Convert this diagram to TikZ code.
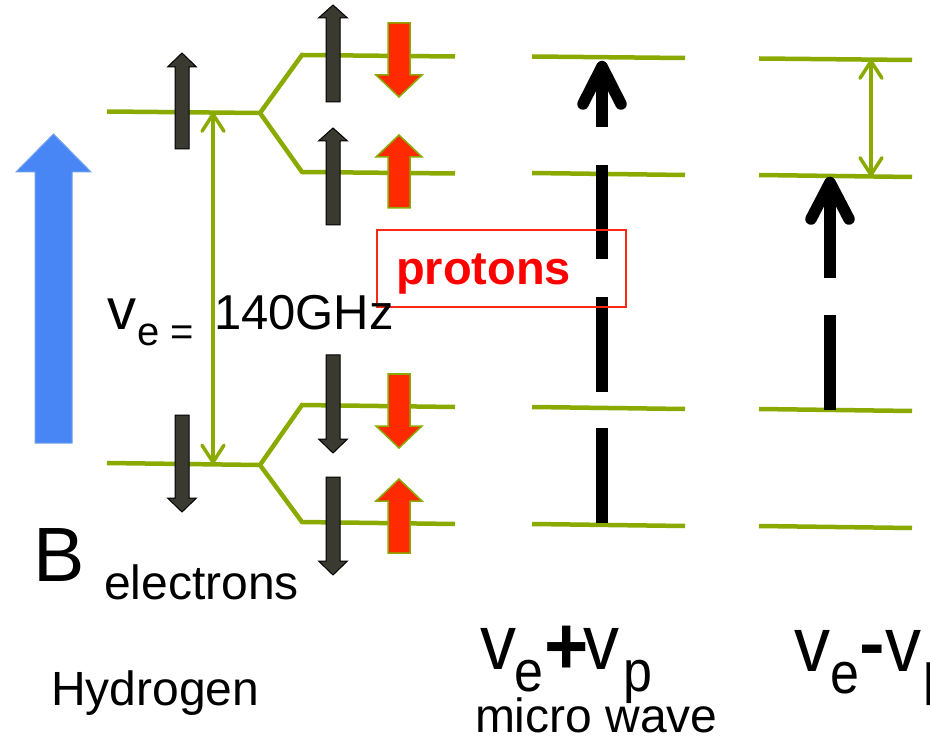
\documentclass[tikz,border=0pt]{standalone}
\usepackage{fontspec}
\setmainfont{Liberation Sans}
\usetikzlibrary{arrows.meta}
\definecolor{lvl}{RGB}{138,170,0}
\definecolor{elec}{RGB}{58,58,48}
\definecolor{prot}{RGB}{255,42,0}
\definecolor{bfield}{RGB}{72,134,246}
\definecolor{bfieldedge}{RGB}{110,160,235}
\definecolor{boxred}{RGB}{255,40,20}
% #1 style, #2 x, #3 tip y, #4 head base y, #5 tail y, #6 half shaft, #7 half head
\newcommand\myfatarrow[7]{%
  \path[#1] ({#2-#6},#5) -- ({#2-#6},#4) -- ({#2-#7},#4) -- (#2,#3) -- ({#2+#7},#4) -- ({#2+#6},#4) -- ({#2+#6},#5) -- cycle;}
\begin{document}
\begin{tikzpicture}[x=1pt,y=-1pt,
  lvlline/.style={draw=lvl,line width=4.5pt},
  elecarrow/.style={fill=elec,draw=black,line width=1pt},
  protarrow/.style={fill=prot,draw=lvl,line width=1.5pt},
  bluearrow/.style={fill=bfield,draw=bfieldedge,line width=1pt},
  nuarrow/.style={draw=lvl,line width=3.5pt,{Straight Barb[length=17pt,width=22pt,round]}-{Straight Barb[length=17pt,width=22pt,round]}},
  blackbar/.style={draw=black,line width=11.5pt},
  txt/.style={inner sep=0pt,outer sep=0pt},
  bigv/.style={txt,anchor=north,font=\fontsize{72}{72}\selectfont},
  subl/.style={txt,anchor=north,font=\fontsize{52}{52}\selectfont}]
\useasboundingbox (0,0) rectangle (930,738);

% energy levels, hydrogen
\draw[lvlline] (107,111.5) -- (260,113) -- (302,55) -- (455,56.5);
\draw[lvlline] (260,113) -- (302,172) -- (455,173.5);
\draw[lvlline] (107,463) -- (260,465) -- (302,405) -- (455,407);
\draw[lvlline] (260,465) -- (302,522) -- (455,524);
% column 2
\draw[lvlline] (532,56.5) -- (685,58);
\draw[lvlline] (532,173) -- (685,175);
\draw[lvlline] (532,407) -- (685,409);
\draw[lvlline] (532,524) -- (685,526);
% column 3
\draw[lvlline] (759,58.5) -- (912,60);
\draw[lvlline] (759,175) -- (912,177);
\draw[lvlline] (759,409) -- (912,411);
\draw[lvlline] (759,526) -- (912,528);

% nu_e arrow
\coordinate (nuTop) at (213,112.5);
\coordinate (nuBot) at (213,464);
\draw[nuarrow] (nuTop) -- (nuBot);
% col 3 green arrow
\coordinate (c3Top) at (871,59.5);
\coordinate (c3Bot) at (871,176.5);
\draw[nuarrow] (c3Top) -- (c3Bot);

% B field arrow
\myfatarrow{bluearrow}{53.5}{134}{172}{443}{18.5}{37.5}

% electron arrows
\myfatarrow{elecarrow}{182}{53}{67}{149}{7}{14.5}
\myfatarrow{elecarrow}{333}{5}{18}{102}{7}{14.5}
\myfatarrow{elecarrow}{333}{128}{141}{225}{7}{14.5}
\myfatarrow{elecarrow}{182}{512}{498}{415}{7}{14.5}
\myfatarrow{elecarrow}{333}{453}{439}{355}{7}{14.5}
\myfatarrow{elecarrow}{333}{575}{561}{477}{7}{14.5}
% proton arrows
\myfatarrow{protarrow}{399}{97}{75}{23}{11}{23}
\myfatarrow{protarrow}{399}{135}{157}{208}{11}{23}
\myfatarrow{protarrow}{399}{448}{426}{374}{11}{23}
\myfatarrow{protarrow}{399}{479}{501}{553}{11}{23}

% column 2 dashed black arrow
\draw[blackbar] (602,523) -- (602,428);
\draw[blackbar] (602,392) -- (602,297);
\draw[blackbar] (602,259) -- (602,165);
\draw[blackbar] (602,127) -- (602,70);
\draw[blackbar,line cap=round,line join=round] (583,104) -- (602,66.5) -- (621,104);
% column 3 dashed black arrow
\draw[blackbar] (830,410) -- (830,315);
\draw[blackbar] (830,278) -- (830,186);
\draw[blackbar,line cap=round,line join=round] (811,219) -- (830,182.5) -- (849,219);

% protons box
\node[draw=boxred,line width=1.5pt,txt,minimum width=249pt,minimum height=77pt] (pbox) at (501.5,268.5) {};
\node[txt,anchor=base west,text=red,font=\bfseries\fontsize{47}{47}\selectfont] (protons) at (396,285) {protons};

% nu_e = 140GHz
\node[txt,anchor=base,font=\fontsize{58}{58}\selectfont] (nuv) at (122,330) {v};
\node[txt,anchor=base west,font=\fontsize{40}{40}\selectfont] (nueq) at (137,345) {e =};
\node[txt,anchor=base west,font=\fontsize{49}{49}\selectfont] (ghz) at (214,330) {140GHz};

% B electrons, Hydrogen
\node[txt,anchor=base west,font=\fontsize{77}{77}\selectfont] (bB) at (34,581) {B};
\node[txt,anchor=base west,font=\fontsize{48}{48}\selectfont] (electrons) at (104,599) {electrons};
\node[txt,anchor=base west,font=\fontsize{48}{48}\selectfont] (hydrogen) at (51,705) {Hydrogen};

% v_e + v_p
\node[bigv] (va) at (498,628) {\scalebox{1}[1.08]{v}};
\node[subl] (ea) at (529,660) {\scalebox{1}[1.12]{e}};
\node[txt,anchor=north,font=\bfseries\fontsize{66}{66}\selectfont] (plus) at (567,626) {\scalebox{1.15}[1.25]{+}};
\node[bigv] (vb) at (601,628) {\scalebox{1}[1.08]{v}};
\node[subl] (pa) at (638,660) {\scalebox{1}[1.12]{p}};
\node[txt,anchor=base west,font=\fontsize{48}{48}\selectfont] (micro) at (475,732) {micro wave};

% v_e - v_p
\node[bigv] (vc) at (812.5,630) {\scalebox{1}[1.08]{v}};
\node[subl] (eb) at (845,662) {\scalebox{1}[1.12]{e}};
\node[txt,anchor=north,font=\bfseries\fontsize{64}{64}\selectfont] (minus) at (872,645) {\scalebox{1.2}[1.1]{-}};
\node[bigv] (vd) at (903,630) {\scalebox{1}[1.08]{v}};
\node[subl] (pb) at (938,662) {\scalebox{1}[1.12]{p}};
\end{tikzpicture}
\end{document}
